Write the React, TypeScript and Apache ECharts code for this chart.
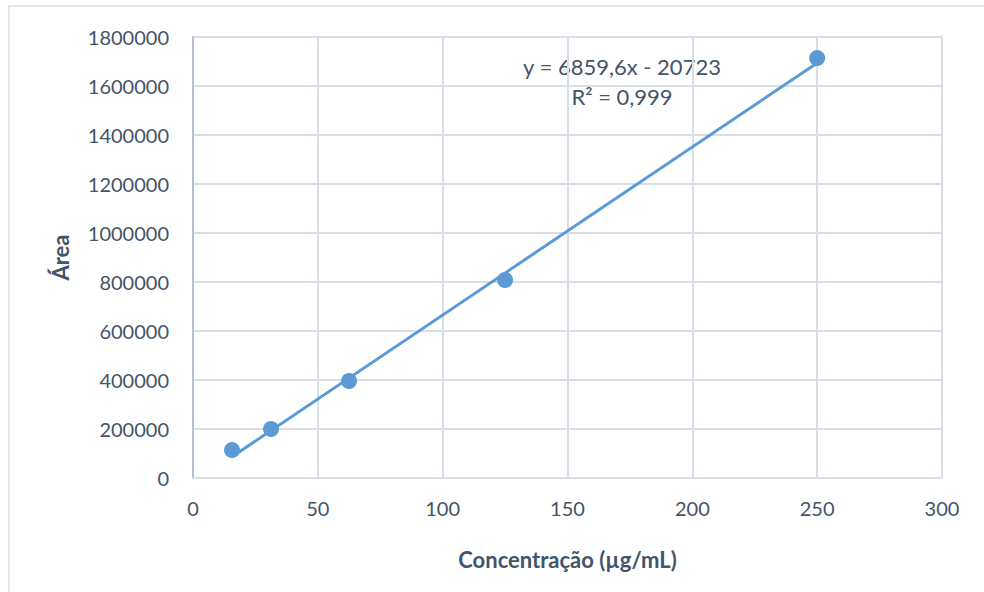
import React, { useEffect, useRef } from "react";
import * as echarts from "echarts";

const concentrations = [15.625, 31.25, 62.5, 125, 250];
const areas = [114000, 200000, 396000, 808000, 1714000];
const slope = 6859.6;
const intercept = -20723;
const equationText = "y = 6859,6x - 20723";
const r2Text = "R² = 0,999";

const textColor = "#44546A";
const gridColor = "#D9DEE6";
const fontFamily = "Lato, 'Open Sans', sans-serif";

export default function App() {
  const ref = useRef<HTMLDivElement>(null);
  useEffect(() => {
    if (!ref.current) return;
    const chart = echarts.init(ref.current, undefined, { renderer: "svg" });
    const xMin = concentrations[0];
    const xMax = concentrations[concentrations.length - 1];
    const trend = [
      [xMin, slope * xMin + intercept],
      [xMax, slope * xMax + intercept],
    ];
    chart.setOption({
      animation: false,
      backgroundColor: "#ffffff",
      textStyle: { fontFamily },
      grid: { left: 193, right: 42, top: 37, bottom: 114 },
      xAxis: {
        type: "value",
        min: 0,
        max: 300,
        interval: 50,
        name: "Concentração (µg/mL)",
        nameLocation: "middle",
        nameGap: 70,
        nameTextStyle: { color: textColor, fontSize: 22, fontWeight: "bold", fontFamily },
        axisLine: { show: true, lineStyle: { color: gridColor, width: 2 } },
        axisTick: { show: false },
        axisLabel: { color: textColor, fontSize: 20, margin: 20, fontFamily, formatter: (v: number) => String(v) },
        splitLine: { show: true, lineStyle: { color: gridColor, width: 2 } },
      },
      yAxis: {
        type: "value",
        min: 0,
        max: 1800000,
        interval: 200000,
        name: "Área",
        nameLocation: "middle",
        nameGap: 122,
        nameRotate: 90,
        nameTextStyle: { color: textColor, fontSize: 22, fontWeight: "bold", fontFamily },
        axisLine: { show: true, lineStyle: { color: "#B4BFCF", width: 2 } },
        axisTick: { show: false },
        axisLabel: { color: textColor, fontSize: 20, margin: 24, fontFamily, formatter: (v: number) => String(v) },
        splitLine: { show: true, lineStyle: { color: gridColor, width: 2 } },
      },
      series: [
        {
          type: "line",
          data: trend,
          showSymbol: false,
          symbol: "none",
          lineStyle: { color: "#5B9BD5", width: 3 },
          z: 2,
        },
        {
          type: "scatter",
          data: concentrations.map((c, i) => [c, areas[i]]),
          symbol: "circle",
          symbolSize: 16,
          itemStyle: { color: "#5B9BD5", opacity: 1 },
          z: 3,
        },
      ],
      graphic: [
        {
          type: "rect",
          shape: { x: 9, y: 6, width: 990, height: 600 },
          style: { fill: "none", stroke: "#E3E6EC", lineWidth: 2 },
          silent: true,
        },
        {
          type: "text",
          x: 622,
          y: 66,
          style: {
            text: equationText,
            fill: textColor,
            font: `22px ${fontFamily}`,
            align: "center",
            verticalAlign: "middle",
          },
        },
        {
          type: "text",
          x: 622,
          y: 96,
          style: {
            text: r2Text,
            fill: textColor,
            font: `22px ${fontFamily}`,
            align: "center",
            verticalAlign: "middle",
          },
        },
      ],
    });
    return () => chart.dispose();
  }, []);
  return (
    <div
      ref={ref}
      style={{ position: "fixed", left: 0, top: 0, width: 984, height: 592 }}
    />
  );
}
